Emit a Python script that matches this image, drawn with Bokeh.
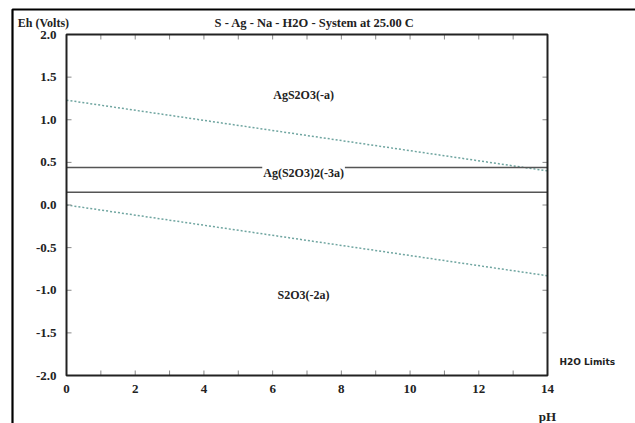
import math
from bokeh.plotting import figure
from bokeh.models import Label, Range1d
from bokeh.core.properties import value
from bokeh.embed import file_html
from bokeh.resources import INLINE

# ---- data ----
ph_ends = [0, 14]
water_upper = [1.23, 0.40]     # O2/H2O limit
water_lower = [0.00, -0.83]    # H2O/H2 limit
boundary_upper = [0.44, 0.44]  # AgS2O3(-a) / Ag(S2O3)2(-3a)
boundary_lower = [0.15, 0.15]  # Ag(S2O3)2(-3a) / S2O3(-2a)

region_names = ["AgS2O3(-a)", "Ag(S2O3)2(-3a)", "S2O3(-2a)"]
region_x = [6.9, 6.9, 6.9]
region_y = [1.29, 0.37, -1.06]

x_ticks = [0, 2, 4, 6, 8, 10, 12, 14]
x_minor = list(range(0, 15))
y_ticks = [-2.0, -1.5, -1.0, -0.5, 0.0, 0.5, 1.0, 1.5, 2.0]
x_tick_labels = ["0", "2", "4", "6", "8", "10", "12", "14"]
y_tick_labels = ["-2.0", "-1.5", "-1.0", "-0.5", "0.0", "0.5", "1.0", "1.5", "2.0"]

title_text = "S - Ag - Na - H2O - System at 25.00 C"
ylabel_text = "Eh (Volts)"
xlabel_text = "pH"
limits_text = "H2O Limits"

SERIF = "Liberation Serif"
INK = "#222222"

# ---- layout: the frame spans the whole canvas; the pH/Eh box is drawn inside ----
W, H = 635, 423
box_l, box_r, box_t, box_b = 66, 547, 34, 375          # pixel edges of the pH/Eh box
x_lo, x_hi = ph_ends[0], ph_ends[-1]
y_lo, y_hi = y_ticks[0], y_ticks[-1]
sx = (box_r - box_l) / (x_hi - x_lo)
sy = (box_b - box_t) / (y_hi - y_lo)
xr = Range1d(x_lo - box_l / sx, x_hi + (W - box_r) / sx)
yr = Range1d(y_lo - (H - box_b) / sy, y_hi + box_t / sy)

p = figure(width=W, height=H, output_backend="svg", toolbar_location=None,
           x_range=xr, y_range=yr, min_border=0,
           x_axis_location=None, y_axis_location=None)
p.grid.visible = False
p.outline_line_color = None
p.background_fill_color = "white"
p.border_fill_color = "white"

# outer frame of the original picture (top and left edges visible)
p.quad(left=[xr.start + 12 / sx], right=[xr.end + 20 / sx],
       top=[yr.end - 9 / sy], bottom=[yr.start - 20 / sy],
       fill_color=None, line_color="black", line_width=2.2)

# water limits (dotted)
p.line(ph_ends, water_upper, line_color="#6fa5a0", line_width=1.5, line_dash="2 2")
p.line(ph_ends, water_lower, line_color="#6fa5a0", line_width=1.5, line_dash="2 2")
# predominance boundaries
p.line(ph_ends, boundary_upper, line_color="#555555", line_width=1.5)
p.line(ph_ends, boundary_lower, line_color="#555555", line_width=1.5)

# ticks (inward)
tick_kw = dict(length=5, length_units="screen", line_color="#888888", line_width=1)
p.ray(x=x_minor, y=[y_lo] * len(x_minor), angle=math.pi / 2, **tick_kw)
p.ray(x=x_minor, y=[y_hi] * len(x_minor), angle=-math.pi / 2, **tick_kw)
p.ray(x=[x_lo] * len(y_ticks), y=y_ticks, angle=0, **tick_kw)
p.ray(x=[x_hi] * len(y_ticks), y=y_ticks, angle=math.pi, **tick_kw)

# box
p.quad(left=[x_lo], right=[x_hi], bottom=[y_lo], top=[y_hi],
       fill_color=None, line_color=INK, line_width=2)

# tick labels
lab_kw = dict(text_font=value(SERIF), text_font_style="bold",
              text_font_size="13px", text_color=INK)
p.text(x=x_ticks, y=[y_lo] * len(x_ticks), text=x_tick_labels,
       text_align="center", text_baseline="middle", y_offset=13, **lab_kw)
p.text(x=[x_lo] * len(y_ticks), y=y_ticks, text=y_tick_labels,
       text_align="right", text_baseline="middle", x_offset=-10, **lab_kw)

# region labels
for name, x, y in zip(region_names, region_x, region_y):
    lab = Label(x=x, y=y, text=name, text_align="center", text_baseline="middle",
                text_font=SERIF, text_font_style="bold", text_font_size="12px",
                text_color=INK)
    if name == "Ag(S2O3)2(-3a)":
        lab.background_fill_color = "white"
        lab.padding = 1
    p.add_layout(lab)

# texts around the box
p.text(x=[7.22], y=[2.135], text=[title_text], text_align="center",
       text_baseline="middle", text_font=value(SERIF), text_font_style="bold",
       text_font_size="12.5px", text_color=INK)
p.text(x=[-0.67], y=[2.135], text=[ylabel_text], text_align="center",
       text_baseline="middle", text_font=value(SERIF), text_font_style="bold",
       text_font_size="12px", text_color=INK)
p.text(x=[14.0], y=[-2.481], text=[xlabel_text], text_align="center",
       text_baseline="middle", text_font=value(SERIF), text_font_style="bold",
       text_font_size="13px", text_color=INK)
p.text(x=[14.35], y=[-1.836], text=[limits_text], text_align="left",
       text_baseline="middle", text_font=value("DejaVu Sans"), text_font_style="bold",
       text_font_size="9px", text_color=INK)

open("out.html", "w").write(file_html(p, INLINE))
